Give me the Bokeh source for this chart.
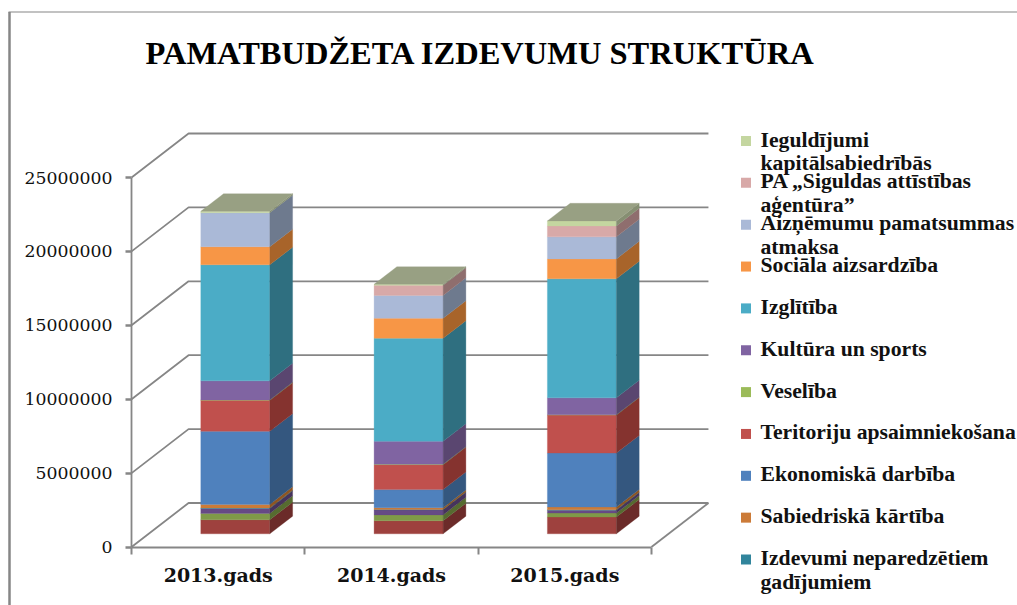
from bokeh.plotting import figure
from bokeh.embed import file_html
from bokeh.resources import INLINE
from bokeh.models import LinearAxis, FixedTicker, NumeralTickFormatter, Range1d
from bokeh.core.properties import value

# ---------- data ----------
title_text = "PAMATBUDŽETA IZDEVUMU STRUKTŪRA"
years = ["2013.gads", "2014.gads", "2015.gads"]
y_ticks = [0, 5000000, 10000000, 15000000, 20000000, 25000000]

pamatnozare_a = [950000, 880000, 1130000]      # lowest band, dark red (its legend entry is cut off)
pamatnozare_b = [430000, 400000, 270000]       # green band (cut off)
pamatnozare_c = [340000, 340000, 200000]       # purple band (cut off)
neparedzetiem = [30000, 20000, 20000]
sabiedriska = [240000, 130000, 190000]
ekonomiska = [4940000, 1220000, 3650000]
teritoriju = [2100000, 1690000, 2570000]
veseliba = [30000, 20000, 20000]
kultura = [1290000, 1560000, 1150000]
izglitiba = [7850000, 6970000, 8050000]
sociala = [1220000, 1350000, 1350000]
aiznemumu = [2300000, 1550000, 1490000]
siguldas = [0, 680000, 740000]
ieguldijumi = [100000, 70000, 340000]

stack = [
    (pamatnozare_a, "#9E413E", "#6B2B29"),
    (pamatnozare_b, "#7F9A48", "#566B30"),
    (pamatnozare_c, "#664A85", "#46335C"),
    (neparedzetiem, "#31859C", "#205C6C"),
    (sabiedriska, "#CC7B38", "#8E5522"),
    (ekonomiska, "#4F81BD", "#34577F"),
    (teritoriju, "#C0504D", "#85332F"),
    (veseliba, "#9BBB59", "#6B823C"),
    (kultura, "#8064A2", "#5A4670"),
    (izglitiba, "#4BACC6", "#2F6F80"),
    (sociala, "#F79646", "#A8642A"),
    (aiznemumu, "#AAB9D7", "#6E7A8E"),
    (siguldas, "#D8A9A8", "#8F6E6E"),
    (ieguldijumi, "#C4D6A0", "#868F72"),
]
top_color = "#98A083"

legend_labels = [
    "Ieguldījumi\nkapitālsabiedrībās",
    "PA „Siguldas attīstības\naģentūra”",
    "Aizņēmumu pamatsummas\natmaksa",
    "Sociāla aizsardzība",
    "Izglītība",
    "Kultūra un sports",
    "Veselība",
    "Teritoriju apsaimniekošana",
    "Ekonomiskā darbība",
    "Sabiedriskā kārtība",
    "Izdevumi neparedzētiem\ngadījumiem",
]
legend_colors = ["#C4D6A0", "#D8A9A8", "#AAB9D7", "#F79646", "#4BACC6", "#8064A2",
                 "#9BBB59", "#C0504D", "#4F81BD", "#CC7B38", "#31859C"]

# ---------- layout: page pixels -> data ----------
W, H = 1017, 605
X0, CAT = 217.7, 173.3      # page x of first category centre, pixels per category
Y0, PX_UNIT = 546.5, 73.9 / 5000000   # page y of value 0, pixels per value unit
def X(px): return (px - X0) / CAT
def Y(py): return (Y0 - py) / PX_UNIT

DX, DY = 57 / CAT, 44 / PX_UNIT     # oblique depth vector of the chart box
BAR_D0, BAR_D1 = 0.30, 0.70         # depth span of a bar
HALF = 34.5 / CAT                   # half width of a bar
GRID = "#868686"

p = figure(width=W, height=H, output_backend="svg", toolbar_location=None,
           x_range=Range1d(X(0), X(W)),
           y_range=Range1d(Y(H), Y(0)),
           x_axis_type=None, y_axis_type=None,
           min_border=0, min_border_left=0, min_border_right=0,
           min_border_top=0, min_border_bottom=0)
p.grid.visible = False
p.outline_line_color = None
p.background_fill_color = "white"

# outer frame
p.line([X(9), X(9)], [Y(605), Y(11.5)], line_color=GRID, line_width=2.5)
p.line([X(8), X(1017)], [Y(11.5), Y(11.5)], line_color=GRID, line_width=1.2)

# box: side wall diagonals and back-wall lines
left, right = -0.5, len(years) - 0.5
for t in y_ticks:
    p.line([left, left + DX, right + DX], [t, t + DY, t + DY], line_color=GRID, line_width=1.8)
p.line([right, right + DX], [0, DY], line_color=GRID, line_width=1.8)

# bars
fx, fy, fc, sx, sy, sc = [], [], [], [], [], []
tx, ty = [], []
for i in range(len(years)):
    base = 0
    a, b = i - HALF + BAR_D0 * DX, i + HALF + BAR_D0 * DX
    ddx, ddy = (BAR_D1 - BAR_D0) * DX, (BAR_D1 - BAR_D0) * DY
    for vals, front, side in stack:
        v = vals[i]
        if v > 0:
            y0, y1 = base + BAR_D0 * DY, base + v + BAR_D0 * DY
            fx.append([a, b, b, a]); fy.append([y0, y0, y1, y1]); fc.append(front)
            sx.append([b, b + ddx, b + ddx, b]); sy.append([y0, y0 + ddy, y1 + ddy, y1]); sc.append(side)
        base += v
    y1 = base + BAR_D0 * DY
    tx.append([a, b, b + ddx, a + ddx]); ty.append([y1, y1, y1 + ddy, y1 + ddy])

p.patches(fx, fy, fill_color=fc, line_color=fc, line_width=0.3)
p.patches(sx, sy, fill_color=sc, line_color=sc, line_width=0.3)
p.patches(tx, ty, fill_color=top_color, line_color=top_color, line_width=0.3)

# axes
yax = LinearAxis(fixed_location=left, ticker=FixedTicker(ticks=y_ticks),
                 formatter=NumeralTickFormatter(format="0"), bounds=(0, y_ticks[-1]),
                 axis_line_color=GRID, axis_line_width=1.8,
                 major_tick_line_color=GRID, major_tick_line_width=2.5,
                 major_tick_in=0, major_tick_out=6, minor_tick_line_color=None,
                 major_label_standoff=13,
                 major_label_text_font="DejaVu Serif", major_label_text_font_size="17.3px",
                 major_label_text_color="#111111")
p.add_layout(yax, "left")

xax = LinearAxis(fixed_location=0, ticker=FixedTicker(ticks=[0, 1, 2], minor_ticks=[-0.5, 0.5, 1.5, 2.5]),
                 major_label_overrides={i: y for i, y in enumerate(years)}, bounds=(left, right),
                 axis_line_color=GRID, axis_line_width=2.2,
                 major_tick_line_color=None, minor_tick_line_color=GRID, minor_tick_line_width=2,
                 minor_tick_in=0, minor_tick_out=7,
                 major_label_standoff=10,
                 major_label_text_font="DejaVu Serif", major_label_text_font_style="bold",
                 major_label_text_font_size="19px", major_label_text_color="#111111")
p.add_layout(xax, "below")

# title
p.text([X(145)], [Y(52)], text=[title_text], text_font=value("Liberation Serif"),
       text_font_style="bold", text_font_size="32.5px", text_color="black",
       text_baseline="middle", text_align="left")

# legend
ROW0, ROW = 140.5, 41.85
lx = [X(745.5)] * len(legend_labels)
ly = [Y(ROW0 + ROW * k) for k in range(len(legend_labels))]
p.rect(lx, ly, width=10 / CAT, height=10 / PX_UNIT, fill_color=legend_colors, line_color=None)
p.text([X(760)] * len(legend_labels), [y + 13.5 / PX_UNIT for y in ly], text=legend_labels,
       text_font=value("Liberation Serif"), text_font_style="bold", text_font_size="21.7px",
       text_color="#111111", text_baseline="top", text_align="left", text_line_height=0.98)

open("out.html", "w").write(file_html(p, INLINE))
